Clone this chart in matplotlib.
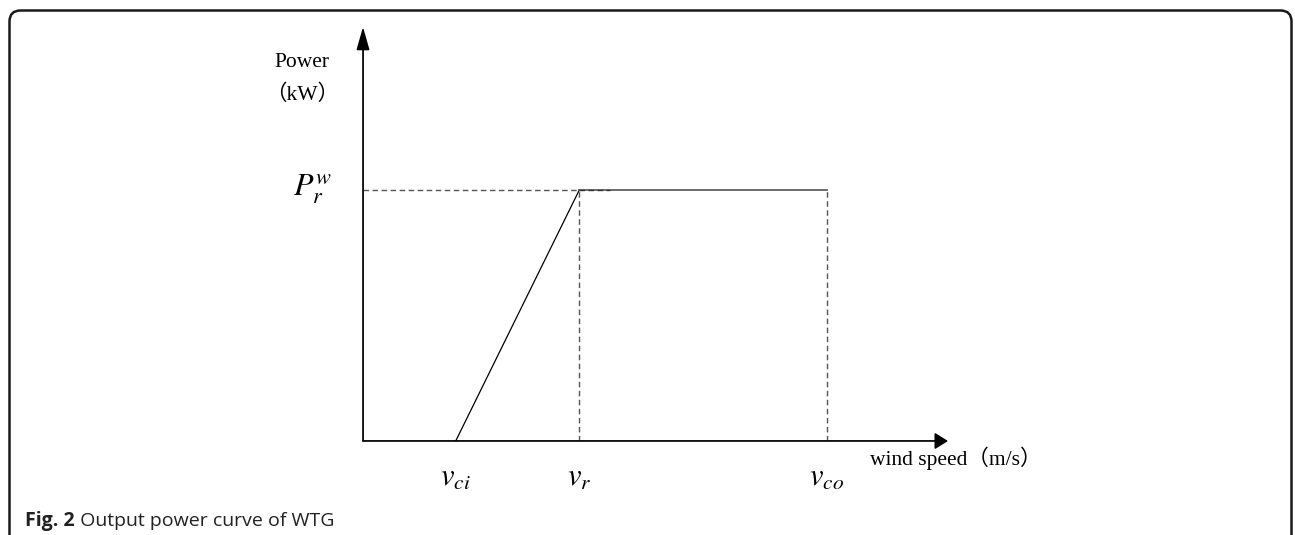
import matplotlib
matplotlib.use("Agg")
import matplotlib.pyplot as plt
from matplotlib.path import Path
from matplotlib.patches import PathPatch

# ---- data ----
v_labels = [r"$v_{ci}$", r"$v_{r}$", r"$v_{co}$"]
wind = [3.0, 7.0, 15.0]        # v_ci, v_r, v_co
power = [0.0, 1.0, 1.0]        # rated power normalised
x_max = 18.93
y_max = 1.649
x_title = "wind speed（m/s）"
y_title = ["Power", "（kW）"]
p_label = r"$P_r^w$"
caption_bold = "Fig. 2"
caption_text = " Output power curve of WTG"

W, H = 1295, 535
fig = plt.figure(figsize=(W / 100, H / 100), dpi=100)
plt.rcParams['mathtext.fontset'] = 'stix'

# background frame axes in pixel coordinates
bg = fig.add_axes([0, 0, 1, 1])
bg.set_xlim(0, W)
bg.set_ylim(H, 0)
bg.axis('off')
r = 11
L, T, R, B = 9.5, 10.5, 1291.5, H + 5
verts = [(L, B), (L, T + r), (L, T), (L + r, T), (R - r, T), (R, T), (R, T + r), (R, B)]
codes = [Path.MOVETO, Path.LINETO, Path.CURVE3, Path.CURVE3, Path.LINETO, Path.CURVE3, Path.CURVE3, Path.LINETO]
bg.add_patch(PathPatch(Path(verts, codes), fill=False, lw=1.8, ec='#1a1a1a'))

# main axes
ax = fig.add_axes([363 / W, 94 / H, 585 / W, 414 / H])
ax.set_xlim(0, x_max)
ax.set_ylim(0, y_max)
ax.axis('off')
ax.patch.set_alpha(0)

axis_col = '#6e6e6e'
# axes with arrows
ax.annotate('', xy=(x_max, 0), xytext=(0, 0), annotation_clip=False,
            arrowprops=dict(arrowstyle='-|>,head_length=8,head_width=5', mutation_scale=1,
                            lw=1.2, color=axis_col, fc='black', ec='black', shrinkA=0, shrinkB=0))
ax.annotate('', xy=(0, y_max), xytext=(0, 0), annotation_clip=False,
            arrowprops=dict(arrowstyle='-|>,head_length=14,head_width=4', mutation_scale=1,
                            lw=1.2, color=axis_col, fc='black', ec='black', shrinkA=0, shrinkB=0))
ax.plot([0, 0], [0, y_max * 0.97], color=axis_col, lw=1.3, solid_capstyle='butt')
ax.plot([0, x_max * 0.985], [0, 0], color=axis_col, lw=1.3, solid_capstyle='butt')

dash_col = '#555555'
dash = (0, (4, 2.5))
# dashed guides
ax.plot([0, wind[1]], [power[1], power[1]], color=dash_col, lw=1.0, ls=dash)
ax.plot([wind[1], wind[1]], [0, power[1]], color=dash_col, lw=1.0, ls=dash)
ax.plot([wind[2], wind[2]], [0, power[2]], color=dash_col, lw=1.0, ls=dash)

# power curve
ax.plot(wind[:2], power[:2], color='black', lw=0.9)
ax.plot(wind[1:], power[1:], color='#606060', lw=1.3)
ax.plot([wind[1], wind[1] + 1.0], [power[1], power[1]], color='#333333', lw=1.0, ls=dash)

# labels
for xv, lab in zip(wind, v_labels):
    ax.text(xv, -0.147, lab, ha='center', va='center', fontsize=22)
ax.text(-1.62, power[1] + 0.005, p_label, ha='center', va='center', fontsize=23)

serif = ['Liberation Serif', 'Noto Sans CJK SC', 'DejaVu Serif']
ax.text(-1.97, 1.506, y_title[0], ha='center', va='center', fontsize=15.5, family=serif)
ax.text(-1.97, 1.378, y_title[1], ha='center', va='center', fontsize=15.5, family=serif)
ax.text(16.4, -0.07, x_title, ha='left', va='center', fontsize=15.5, family=serif)

# caption
fs_cap = 14
t1 = fig.text(25 / W, 1 - 521 / H, caption_bold, fontsize=fs_cap, fontweight='bold',
              family='Open Sans', ha='left', va='center', color='#222222')
fig.canvas.draw()
bb = t1.get_window_extent()
fig.text(bb.x1 / W, 1 - 521 / H, caption_text, fontsize=fs_cap, family='Open Sans',
         ha='left', va='center', color='#222222')

fig.savefig('out.png', dpi=100)
